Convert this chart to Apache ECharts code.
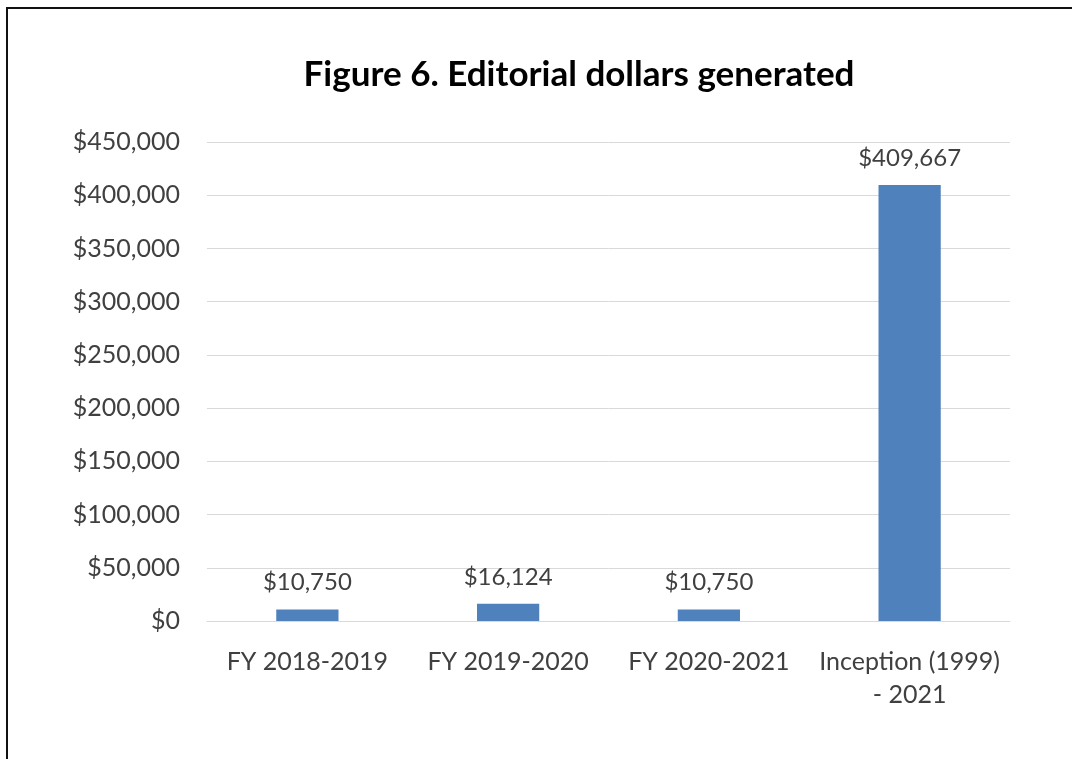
<!DOCTYPE html>
<html>
<head>
<meta charset="utf-8">
<script src="https://cdn.jsdelivr.net/npm/echarts@6/dist/echarts.min.js"></script>
<style>
    html, body { margin: 0; padding: 0; background: #fff; }
    #chart { width: 1072px; height: 759px; }
    .frame {
        position: absolute;
        left: 6px;
        top: 7px;
        width: 1066px;
        height: 752px;
        border-left: 2px solid #111;
        border-top: 2px solid #111;
        pointer-events: none;
    }
</style>
</head>
<body>
<div id="chart"></div>
<div class="frame"></div>
<script>
    var categories = ["FY 2018-2019", "FY 2019-2020", "FY 2020-2021", "Inception (1999)\n- 2021"];
    var dollars = [10750, 16124, 10750, 409667];
    var yTicks = { min: 0, max: 450000, interval: 50000 };

    function money(v) {
        return "$" + v.toLocaleString("en-US");
    }

    var myChart = echarts.init(document.getElementById("chart"));
    var option = {
        animation: false,
        title: {
            text: "Figure 6. Editorial dollars generated",
            left: 574,
            top: 52,
            textAlign: "center",
            textStyle: {
                fontFamily: "Lato",
                fontWeight: "bold",
                fontSize: 35,
                color: "#000"
            }
        },
        grid: {
            left: 207,
            right: 62,
            top: 142,
            bottom: 138
        },
        xAxis: {
            type: "category",
            data: categories,
            axisLine: { lineStyle: { color: "#d9d9d9" } },
            axisTick: { show: false },
            axisLabel: {
                interval: 0,
                margin: 24,
                fontFamily: "Lato",
                fontSize: 25,
                lineHeight: 33,
                color: "#404040"
            }
        },
        yAxis: {
            type: "value",
            min: yTicks.min,
            max: yTicks.max,
            interval: yTicks.interval,
            axisLine: { show: false },
            axisTick: { show: false },
            splitLine: { lineStyle: { color: "#d9d9d9" } },
            axisLabel: {
                margin: 27,
                fontFamily: "Lato",
                fontSize: 25,
                color: "#404040",
                formatter: money
            }
        },
        series: [
            {
                type: "bar",
                data: dollars,
                barWidth: "31%",
                itemStyle: { color: "#4f81bd" },
                label: {
                    show: true,
                    position: "top",
                    distance: 15,
                    fontFamily: "Lato",
                    fontSize: 24,
                    color: "#404040",
                    formatter: function (p) { return money(p.value); }
                }
            }
        ]
    };
    myChart.setOption(option);
</script>
</body>
</html>
